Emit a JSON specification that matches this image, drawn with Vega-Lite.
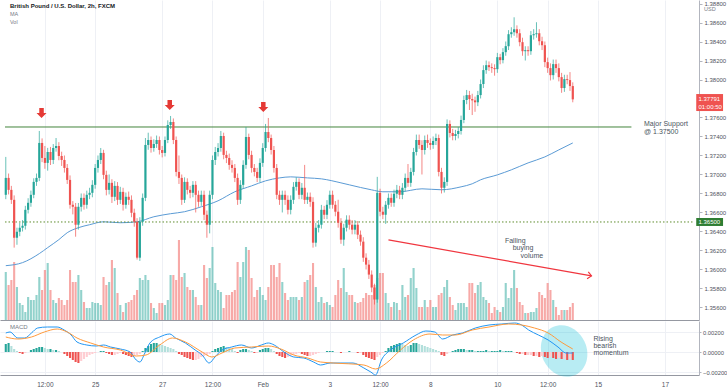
{
"$schema":"https://vega.github.io/schema/vega-lite/v6.json",
"padding":0,
"background":"white",
"spacing":1,
"config":{"view":{"stroke":null},"text":{"font":"Liberation Sans"},"axis":{"labelFont":"Liberation Sans","labelOverlap":false},
 "axisY":{"orient":"right","format":".5f","labelOverlap":false,"grid":true,"gridColor":"#eef0f5","labelFontSize":6,"labelColor":"#50535e","tickSize":3,"tickColor":"#b2b5be","domainColor":"#b2b5be","labelPadding":2,"title":null}},
"datasets":{
"bars":[
{"i":0,"o":1.36786,"h":1.37185,"l":1.3674,"c":1.36964,"v":4800,"g":0.0008},
{"i":1,"o":1.36964,"h":1.3701,"l":1.3679,"c":1.36838,"v":3500,"g":0.0009},
{"i":2,"o":1.36838,"h":1.3688,"l":1.3669,"c":1.36733,"v":4000,"g":0.0006},
{"i":3,"o":1.36733,"h":1.3678,"l":1.3623,"c":1.36334,"v":5800,"g":0.0003},
{"i":4,"o":1.36334,"h":1.3644,"l":1.3626,"c":1.36397,"v":3300,"g":0.0001},
{"i":5,"o":1.36397,"h":1.3649,"l":1.3635,"c":1.36439,"v":1700,"g":-0.0001},
{"i":6,"o":1.36439,"h":1.3652,"l":1.364,"c":1.3646,"v":1500,"g":-0.0002},
{"i":7,"o":1.3646,"h":1.3667,"l":1.3642,"c":1.36628,"v":800,"g":-0.0001},
{"i":8,"o":1.36628,"h":1.3675,"l":1.3659,"c":1.36702,"v":2300,"g":0},
{"i":9,"o":1.36702,"h":1.3683,"l":1.3666,"c":1.36786,"v":2000,"g":0.0002},
{"i":10,"o":1.36786,"h":1.3696,"l":1.3675,"c":1.36922,"v":2000,"g":0.0003},
{"i":11,"o":1.36922,"h":1.3701,"l":1.3688,"c":1.36964,"v":2500,"g":0.0004},
{"i":12,"o":1.36964,"h":1.37458,"l":1.3693,"c":1.37332,"v":4300,"g":0.0005},
{"i":13,"o":1.37332,"h":1.3738,"l":1.3713,"c":1.37174,"v":3000,"g":0.0005},
{"i":14,"o":1.37174,"h":1.373,"l":1.3706,"c":1.37122,"v":5000,"g":0.0004},
{"i":15,"o":1.37122,"h":1.3728,"l":1.3704,"c":1.37237,"v":5700,"g":0.0003},
{"i":16,"o":1.37237,"h":1.3729,"l":1.371,"c":1.37153,"v":3000,"g":0.0003},
{"i":17,"o":1.37153,"h":1.3732,"l":1.3711,"c":1.37279,"v":2000,"g":0.0002},
{"i":18,"o":1.37279,"h":1.37384,"l":1.3724,"c":1.373,"v":1700,"g":0.0002},
{"i":19,"o":1.373,"h":1.3734,"l":1.3715,"c":1.37195,"v":2200,"g":0.0001},
{"i":20,"o":1.37195,"h":1.3724,"l":1.3709,"c":1.37153,"v":2000,"g":0},
{"i":21,"o":1.37153,"h":1.372,"l":1.3702,"c":1.37069,"v":1500,"g":-0.0002},
{"i":22,"o":1.37069,"h":1.3711,"l":1.369,"c":1.36943,"v":2000,"g":-0.0004},
{"i":23,"o":1.36943,"h":1.3699,"l":1.3664,"c":1.36681,"v":5000,"g":-0.0006},
{"i":24,"o":1.36681,"h":1.3672,"l":1.3658,"c":1.3666,"v":3800,"g":-0.0008},
{"i":25,"o":1.3666,"h":1.367,"l":1.36345,"c":1.36471,"v":3800,"g":-0.001},
{"i":26,"o":1.36471,"h":1.367,"l":1.3642,"c":1.3666,"v":4500,"g":-0.0011},
{"i":27,"o":1.3666,"h":1.368,"l":1.3661,"c":1.36754,"v":3000,"g":-0.0009},
{"i":28,"o":1.36754,"h":1.368,"l":1.3663,"c":1.36681,"v":1800,"g":-0.0007},
{"i":29,"o":1.36681,"h":1.3683,"l":1.3664,"c":1.36786,"v":1200,"g":-0.0005},
{"i":30,"o":1.36786,"h":1.3686,"l":1.3674,"c":1.36807,"v":1200,"g":-0.0003},
{"i":31,"o":1.36807,"h":1.3694,"l":1.3676,"c":1.36891,"v":1800,"g":-0.0002},
{"i":32,"o":1.36891,"h":1.3711,"l":1.3685,"c":1.37069,"v":1700,"g":-0.0001},
{"i":33,"o":1.37069,"h":1.372,"l":1.3702,"c":1.37153,"v":1700,"g":0},
{"i":34,"o":1.37153,"h":1.37279,"l":1.3711,"c":1.37227,"v":1500,"g":0.0001},
{"i":35,"o":1.37227,"h":1.3726,"l":1.3695,"c":1.36996,"v":4300,"g":0.0001},
{"i":36,"o":1.36996,"h":1.3704,"l":1.3678,"c":1.36838,"v":3500,"g":-0.0001},
{"i":37,"o":1.36838,"h":1.37,"l":1.3679,"c":1.36912,"v":3800,"g":-0.0002},
{"i":38,"o":1.36912,"h":1.3695,"l":1.367,"c":1.36765,"v":6000,"g":-0.0003},
{"i":39,"o":1.36765,"h":1.3693,"l":1.3672,"c":1.3688,"v":5200,"g":-0.0003},
{"i":40,"o":1.3688,"h":1.3692,"l":1.3668,"c":1.36733,"v":2700,"g":-0.0002},
{"i":41,"o":1.36733,"h":1.3687,"l":1.3669,"c":1.36817,"v":1500,"g":-0.0001},
{"i":42,"o":1.36817,"h":1.3686,"l":1.3662,"c":1.36681,"v":800,"g":-0.0002},
{"i":43,"o":1.36681,"h":1.3681,"l":1.3664,"c":1.36765,"v":1700,"g":-0.0003},
{"i":44,"o":1.36765,"h":1.3682,"l":1.3668,"c":1.36733,"v":1800,"g":-0.0004},
{"i":45,"o":1.36733,"h":1.3678,"l":1.3655,"c":1.36597,"v":2000,"g":-0.0005},
{"i":46,"o":1.36597,"h":1.3664,"l":1.3645,"c":1.36502,"v":2500,"g":-0.0004},
{"i":47,"o":1.36502,"h":1.3654,"l":1.36104,"c":1.36124,"v":3000,"g":-0.0003},
{"i":48,"o":1.36124,"h":1.3655,"l":1.3609,"c":1.36502,"v":4200,"g":-0.0002},
{"i":49,"o":1.36502,"h":1.368,"l":1.3646,"c":1.36754,"v":4000,"g":0.0001},
{"i":50,"o":1.36754,"h":1.37384,"l":1.3672,"c":1.37311,"v":4500,"g":0.0004},
{"i":51,"o":1.37311,"h":1.3744,"l":1.3726,"c":1.37363,"v":4000,"g":0.0006},
{"i":52,"o":1.37363,"h":1.374,"l":1.3723,"c":1.37279,"v":1700,"g":0.0008},
{"i":53,"o":1.37279,"h":1.3737,"l":1.3724,"c":1.37321,"v":1200,"g":0.0009},
{"i":54,"o":1.37321,"h":1.3741,"l":1.3728,"c":1.37363,"v":700,"g":0.0009},
{"i":55,"o":1.37363,"h":1.374,"l":1.3721,"c":1.37258,"v":1700,"g":0.0008},
{"i":56,"o":1.37258,"h":1.373,"l":1.3718,"c":1.37227,"v":1700,"g":0.0007},
{"i":57,"o":1.37227,"h":1.374,"l":1.3719,"c":1.37363,"v":1500,"g":0.0006},
{"i":58,"o":1.37363,"h":1.3757,"l":1.3733,"c":1.37521,"v":2000,"g":0.0005},
{"i":59,"o":1.37521,"h":1.37616,"l":1.3748,"c":1.37553,"v":4500,"g":0.0004},
{"i":60,"o":1.37553,"h":1.3759,"l":1.3732,"c":1.37363,"v":4500,"g":0.0003},
{"i":61,"o":1.37363,"h":1.374,"l":1.3698,"c":1.37027,"v":4000,"g":0.0001},
{"i":62,"o":1.37027,"h":1.372,"l":1.369,"c":1.36964,"v":8000,"g":-0.0002},
{"i":63,"o":1.36964,"h":1.37,"l":1.3668,"c":1.36733,"v":4300,"g":-0.0003},
{"i":64,"o":1.36733,"h":1.3697,"l":1.367,"c":1.36922,"v":4700,"g":-0.0005},
{"i":65,"o":1.36922,"h":1.3696,"l":1.3679,"c":1.36838,"v":3300,"g":-0.0006},
{"i":66,"o":1.36838,"h":1.3688,"l":1.3675,"c":1.36807,"v":3000,"g":-0.0007},
{"i":67,"o":1.36807,"h":1.3693,"l":1.3676,"c":1.36891,"v":3000,"g":-0.0008},
{"i":68,"o":1.36891,"h":1.3693,"l":1.366,"c":1.36786,"v":2300,"g":-0.0008},
{"i":69,"o":1.36786,"h":1.3683,"l":1.3666,"c":1.36712,"v":1500,"g":-0.0007},
{"i":70,"o":1.36712,"h":1.3683,"l":1.3667,"c":1.36786,"v":1500,"g":-0.0005},
{"i":71,"o":1.36786,"h":1.3683,"l":1.3652,"c":1.36576,"v":5500,"g":-0.0004},
{"i":72,"o":1.36576,"h":1.3662,"l":1.36334,"c":1.36471,"v":4200,"g":-0.0003},
{"i":73,"o":1.36471,"h":1.3683,"l":1.3638,"c":1.36786,"v":5200,"g":-0.0002},
{"i":74,"o":1.36786,"h":1.372,"l":1.3674,"c":1.37153,"v":7300,"g":0.0001},
{"i":75,"o":1.37153,"h":1.3729,"l":1.371,"c":1.37237,"v":3700,"g":0.0003},
{"i":76,"o":1.37237,"h":1.3733,"l":1.3719,"c":1.37279,"v":3000,"g":0.0004},
{"i":77,"o":1.37279,"h":1.37458,"l":1.3724,"c":1.37405,"v":2800,"g":0.0005},
{"i":78,"o":1.37405,"h":1.3744,"l":1.3716,"c":1.37206,"v":1200,"g":0.0006},
{"i":79,"o":1.37206,"h":1.3725,"l":1.3712,"c":1.37174,"v":2500,"g":0.0005},
{"i":80,"o":1.37174,"h":1.3722,"l":1.3705,"c":1.37101,"v":2500,"g":0.0004},
{"i":81,"o":1.37101,"h":1.3715,"l":1.3702,"c":1.37069,"v":2800,"g":0.0003},
{"i":82,"o":1.37069,"h":1.3711,"l":1.3692,"c":1.36964,"v":3000,"g":0.0001},
{"i":83,"o":1.36964,"h":1.3701,"l":1.3668,"c":1.36733,"v":5800,"g":-0.0001},
{"i":84,"o":1.36733,"h":1.3694,"l":1.3669,"c":1.36891,"v":4300,"g":0.0002},
{"i":85,"o":1.36891,"h":1.3715,"l":1.3685,"c":1.37101,"v":5800,"g":0.0003},
{"i":86,"o":1.37101,"h":1.375,"l":1.3706,"c":1.37395,"v":7300,"g":0.0003},
{"i":87,"o":1.37395,"h":1.3743,"l":1.3716,"c":1.37206,"v":7000,"g":0.0002},
{"i":88,"o":1.37206,"h":1.3725,"l":1.3702,"c":1.37069,"v":4200,"g":0.0001},
{"i":89,"o":1.37069,"h":1.3711,"l":1.3698,"c":1.37027,"v":2300,"g":-0.0001},
{"i":90,"o":1.37027,"h":1.3707,"l":1.3692,"c":1.36964,"v":3000,"g":-0.0001},
{"i":91,"o":1.36964,"h":1.3717,"l":1.3692,"c":1.37122,"v":3300,"g":0.0002},
{"i":92,"o":1.37122,"h":1.3733,"l":1.3708,"c":1.37279,"v":2500,"g":0.0003},
{"i":93,"o":1.37279,"h":1.37532,"l":1.3724,"c":1.37447,"v":2000,"g":0.0004},
{"i":94,"o":1.37447,"h":1.37595,"l":1.3734,"c":1.37384,"v":3300,"g":0.0004},
{"i":95,"o":1.37384,"h":1.3742,"l":1.3721,"c":1.37258,"v":5500,"g":0.0003},
{"i":96,"o":1.37258,"h":1.373,"l":1.3702,"c":1.37069,"v":5500,"g":0.0001},
{"i":97,"o":1.37069,"h":1.3711,"l":1.3674,"c":1.36786,"v":4300,"g":-0.0002},
{"i":98,"o":1.36786,"h":1.3683,"l":1.3668,"c":1.36733,"v":5700,"g":-0.0004},
{"i":99,"o":1.36733,"h":1.3683,"l":1.366,"c":1.36786,"v":3800,"g":-0.0005},
{"i":100,"o":1.36786,"h":1.3683,"l":1.3668,"c":1.36733,"v":2700,"g":-0.0006},
{"i":101,"o":1.36733,"h":1.3678,"l":1.3658,"c":1.36628,"v":2000,"g":-0.0005},
{"i":102,"o":1.36628,"h":1.3678,"l":1.3658,"c":1.36733,"v":2300,"g":-0.0004},
{"i":103,"o":1.36733,"h":1.3692,"l":1.3669,"c":1.3687,"v":2300,"g":-0.0003},
{"i":104,"o":1.3687,"h":1.3697,"l":1.3683,"c":1.36922,"v":2300,"g":-0.0002},
{"i":105,"o":1.36922,"h":1.3696,"l":1.3674,"c":1.36786,"v":2000,"g":-0.0001},
{"i":106,"o":1.36786,"h":1.3691,"l":1.3674,"c":1.3686,"v":2300,"g":-0.0002},
{"i":107,"o":1.3686,"h":1.37101,"l":1.3669,"c":1.36733,"v":3800,"g":-0.0003},
{"i":108,"o":1.36733,"h":1.3681,"l":1.3669,"c":1.36765,"v":4000,"g":-0.0004},
{"i":109,"o":1.36765,"h":1.3681,"l":1.3666,"c":1.36712,"v":4500,"g":-0.0004},
{"i":110,"o":1.36712,"h":1.3676,"l":1.3623,"c":1.36282,"v":5700,"g":-0.0003},
{"i":111,"o":1.36282,"h":1.3649,"l":1.3624,"c":1.36439,"v":3300,"g":-0.0002},
{"i":112,"o":1.36439,"h":1.3652,"l":1.3639,"c":1.36471,"v":1800,"g":-0.0001},
{"i":113,"o":1.36471,"h":1.3668,"l":1.3643,"c":1.36628,"v":2300,"g":0},
{"i":114,"o":1.36628,"h":1.3667,"l":1.3653,"c":1.36576,"v":1700,"g":0},
{"i":115,"o":1.36576,"h":1.3673,"l":1.3653,"c":1.36681,"v":1800,"g":0.0001},
{"i":116,"o":1.36681,"h":1.3683,"l":1.3664,"c":1.36786,"v":1500,"g":0.0001},
{"i":117,"o":1.36786,"h":1.3683,"l":1.3664,"c":1.36681,"v":1300,"g":0.0001},
{"i":118,"o":1.36681,"h":1.3672,"l":1.3656,"c":1.36608,"v":2500,"g":0},
{"i":119,"o":1.36608,"h":1.36734,"l":1.3644,"c":1.36492,"v":4000,"g":0},
{"i":120,"o":1.36492,"h":1.3654,"l":1.3627,"c":1.36314,"v":3200,"g":-0.0001},
{"i":121,"o":1.36314,"h":1.3648,"l":1.3625,"c":1.36439,"v":5200,"g":0},
{"i":122,"o":1.36439,"h":1.3657,"l":1.364,"c":1.36524,"v":2800,"g":0},
{"i":123,"o":1.36524,"h":1.3657,"l":1.3642,"c":1.36471,"v":2500,"g":0.0001},
{"i":124,"o":1.36471,"h":1.3652,"l":1.3637,"c":1.36419,"v":2500,"g":0},
{"i":125,"o":1.36419,"h":1.3652,"l":1.3637,"c":1.36471,"v":1800,"g":0},
{"i":126,"o":1.36471,"h":1.3651,"l":1.3632,"c":1.36366,"v":1700,"g":-0.0001},
{"i":127,"o":1.36366,"h":1.3641,"l":1.3625,"c":1.36293,"v":1800,"g":-0.0001},
{"i":128,"o":1.36293,"h":1.3634,"l":1.3608,"c":1.36124,"v":2200,"g":-0.0003},
{"i":129,"o":1.36124,"h":1.3617,"l":1.36,"c":1.36051,"v":2700,"g":-0.0005},
{"i":130,"o":1.36051,"h":1.361,"l":1.359,"c":1.35946,"v":2500,"g":-0.0006},
{"i":131,"o":1.35946,"h":1.3599,"l":1.3576,"c":1.3581,"v":2500,"g":-0.0007},
{"i":132,"o":1.3581,"h":1.3585,"l":1.35631,"c":1.35684,"v":3500,"g":-0.0008},
{"i":133,"o":1.35684,"h":1.36975,"l":1.3565,"c":1.36807,"v":4200,"g":-0.0005},
{"i":134,"o":1.36807,"h":1.3685,"l":1.3656,"c":1.36608,"v":4700,"g":-0.0003},
{"i":135,"o":1.36608,"h":1.3666,"l":1.3653,"c":1.36576,"v":4700,"g":-0.0001},
{"i":136,"o":1.36576,"h":1.3672,"l":1.3648,"c":1.36681,"v":2700,"g":0.0001},
{"i":137,"o":1.36681,"h":1.368,"l":1.3664,"c":1.36754,"v":1700,"g":0.0004},
{"i":138,"o":1.36754,"h":1.368,"l":1.3666,"c":1.36702,"v":1300,"g":0.0006},
{"i":139,"o":1.36702,"h":1.3684,"l":1.3666,"c":1.36797,"v":1800,"g":0.0007},
{"i":140,"o":1.36797,"h":1.3689,"l":1.3675,"c":1.36838,"v":1700,"g":0.0008},
{"i":141,"o":1.36838,"h":1.3688,"l":1.3674,"c":1.36786,"v":1000,"g":0.0009},
{"i":142,"o":1.36786,"h":1.3691,"l":1.3674,"c":1.3686,"v":3500,"g":0.0008},
{"i":143,"o":1.3686,"h":1.3701,"l":1.3682,"c":1.36964,"v":2300,"g":0.0007},
{"i":144,"o":1.36964,"h":1.3711,"l":1.3687,"c":1.36912,"v":2500,"g":0.0006},
{"i":145,"o":1.36912,"h":1.3707,"l":1.3687,"c":1.37027,"v":4200,"g":0.0007},
{"i":146,"o":1.37027,"h":1.3728,"l":1.3699,"c":1.37237,"v":5200,"g":0.0009},
{"i":147,"o":1.37237,"h":1.3742,"l":1.372,"c":1.37363,"v":3200,"g":0.0009},
{"i":148,"o":1.37363,"h":1.3742,"l":1.3727,"c":1.37311,"v":1300,"g":0.0008},
{"i":149,"o":1.37311,"h":1.3736,"l":1.37,"c":1.37258,"v":1300,"g":0.0007},
{"i":150,"o":1.37258,"h":1.3741,"l":1.3721,"c":1.37363,"v":2000,"g":0.0006},
{"i":151,"o":1.37363,"h":1.3742,"l":1.3728,"c":1.37332,"v":1300,"g":0.0005},
{"i":152,"o":1.37332,"h":1.3738,"l":1.3726,"c":1.37311,"v":2000,"g":0.0004},
{"i":153,"o":1.37311,"h":1.374,"l":1.3727,"c":1.37353,"v":1300,"g":0.0003},
{"i":154,"o":1.37353,"h":1.3743,"l":1.3731,"c":1.37384,"v":1300,"g":0.0002},
{"i":155,"o":1.37384,"h":1.3742,"l":1.3698,"c":1.37027,"v":2500,"g":0.0001},
{"i":156,"o":1.37027,"h":1.3707,"l":1.368,"c":1.3686,"v":2700,"g":-0.0003},
{"i":157,"o":1.3686,"h":1.3697,"l":1.3681,"c":1.36922,"v":3300,"g":-0.0004},
{"i":158,"o":1.36922,"h":1.3758,"l":1.3688,"c":1.37532,"v":4000,"g":-0.0002},
{"i":159,"o":1.37532,"h":1.3757,"l":1.3739,"c":1.37437,"v":2300,"g":0},
{"i":160,"o":1.37437,"h":1.3748,"l":1.3736,"c":1.37405,"v":1500,"g":0.0001},
{"i":161,"o":1.37405,"h":1.3747,"l":1.3736,"c":1.37426,"v":1000,"g":0.0002},
{"i":162,"o":1.37426,"h":1.375,"l":1.3738,"c":1.37458,"v":1700,"g":0.0003},
{"i":163,"o":1.37458,"h":1.3762,"l":1.3742,"c":1.37574,"v":1700,"g":0.0003},
{"i":164,"o":1.37574,"h":1.3783,"l":1.3754,"c":1.37784,"v":1700,"g":0.0003},
{"i":165,"o":1.37784,"h":1.3789,"l":1.3774,"c":1.37836,"v":1300,"g":0.0002},
{"i":166,"o":1.37836,"h":1.3788,"l":1.37679,"c":1.37794,"v":3700,"g":0.0002},
{"i":167,"o":1.37794,"h":1.3785,"l":1.37626,"c":1.3778,"v":3700,"g":0.0002},
{"i":168,"o":1.3778,"h":1.3782,"l":1.3766,"c":1.3776,"v":2700,"g":0.0001},
{"i":169,"o":1.3776,"h":1.3788,"l":1.3772,"c":1.37836,"v":3500,"g":0.0001},
{"i":170,"o":1.37836,"h":1.38,"l":1.378,"c":1.37952,"v":3800,"g":0.0001},
{"i":171,"o":1.37952,"h":1.3815,"l":1.3791,"c":1.38099,"v":2300,"g":0.0001},
{"i":172,"o":1.38099,"h":1.382,"l":1.3806,"c":1.38151,"v":2000,"g":0.0002},
{"i":173,"o":1.38151,"h":1.3819,"l":1.3809,"c":1.3813,"v":1700,"g":0.0001},
{"i":174,"o":1.3813,"h":1.3817,"l":1.3807,"c":1.3812,"v":700,"g":0.0001},
{"i":175,"o":1.3812,"h":1.3816,"l":1.3804,"c":1.38109,"v":1300,"g":0.0001},
{"i":176,"o":1.38109,"h":1.3828,"l":1.3807,"c":1.38235,"v":1000,"g":0.0001},
{"i":177,"o":1.38235,"h":1.3827,"l":1.3816,"c":1.38204,"v":800,"g":0.0002},
{"i":178,"o":1.38204,"h":1.3833,"l":1.3817,"c":1.38288,"v":1300,"g":0.0001},
{"i":179,"o":1.38288,"h":1.384,"l":1.3825,"c":1.38351,"v":3700,"g":0.0001},
{"i":180,"o":1.38351,"h":1.3852,"l":1.3831,"c":1.38477,"v":2200,"g":0.0001},
{"i":181,"o":1.38477,"h":1.3855,"l":1.3844,"c":1.38498,"v":3200,"g":0.0001},
{"i":182,"o":1.38498,"h":1.38655,"l":1.3846,"c":1.38529,"v":5000,"g":0},
{"i":183,"o":1.38529,"h":1.3857,"l":1.3844,"c":1.38487,"v":3200,"g":-0.0001},
{"i":184,"o":1.38487,"h":1.3853,"l":1.3835,"c":1.38393,"v":1800,"g":-0.0002},
{"i":185,"o":1.38393,"h":1.3844,"l":1.3825,"c":1.38298,"v":1500,"g":-0.0002},
{"i":186,"o":1.38298,"h":1.3835,"l":1.382,"c":1.38309,"v":700,"g":-0.0003},
{"i":187,"o":1.38309,"h":1.3835,"l":1.3825,"c":1.38298,"v":700,"g":-0.0003},
{"i":188,"o":1.38298,"h":1.3851,"l":1.3826,"c":1.38466,"v":800,"g":-0.0003},
{"i":189,"o":1.38466,"h":1.3853,"l":1.3842,"c":1.38477,"v":800,"g":-0.0004},
{"i":190,"o":1.38477,"h":1.38603,"l":1.3844,"c":1.38487,"v":1200,"g":-0.0004},
{"i":191,"o":1.38487,"h":1.3853,"l":1.3836,"c":1.38403,"v":2800,"g":-0.0005},
{"i":192,"o":1.38403,"h":1.3845,"l":1.3831,"c":1.38361,"v":2500,"g":-0.0004},
{"i":193,"o":1.38361,"h":1.384,"l":1.3813,"c":1.38183,"v":2200,"g":-0.0005},
{"i":194,"o":1.38183,"h":1.3823,"l":1.3807,"c":1.3812,"v":3700,"g":-0.0006},
{"i":195,"o":1.3812,"h":1.3817,"l":1.3799,"c":1.38046,"v":3000,"g":-0.0005},
{"i":196,"o":1.38046,"h":1.3821,"l":1.38,"c":1.38162,"v":2000,"g":-0.0006},
{"i":197,"o":1.38162,"h":1.3821,"l":1.3807,"c":1.3812,"v":1300,"g":-0.0007},
{"i":198,"o":1.3812,"h":1.3817,"l":1.3798,"c":1.38025,"v":500,"g":-0.0006},
{"i":199,"o":1.38025,"h":1.3807,"l":1.3786,"c":1.3791,"v":1000,"g":-0.0007},
{"i":200,"o":1.3791,"h":1.3805,"l":1.3787,"c":1.38004,"v":1000,"g":-0.0007},
{"i":201,"o":1.38004,"h":1.3805,"l":1.3795,"c":1.37994,"v":1000,"g":-0.0008},
{"i":202,"o":1.37994,"h":1.38078,"l":1.3788,"c":1.37931,"v":1300,"g":-0.0007},
{"i":203,"o":1.37931,"h":1.3797,"l":1.3776,"c":1.37791,"v":1700,"g":-0.0008}
],
"ma":[{"i":0,"p":1.3604},{"i":6,"p":1.36072},{"i":12,"p":1.36167},{"i":15,"p":1.3623},{"i":19,"p":1.36314},{"i":22,"p":1.36387},{"i":26,"p":1.3644},{"i":30,"p":1.36471},{"i":35,"p":1.36502},{"i":41,"p":1.36492},{"i":47,"p":1.36502},{"i":53,"p":1.36555},{"i":59,"p":1.36587},{"i":64,"p":1.36608},{"i":70,"p":1.3666},{"i":76,"p":1.36723},{"i":82,"p":1.36818},{"i":88,"p":1.3688},{"i":93,"p":1.36933},{"i":98,"p":1.36964},{"i":102,"p":1.36975},{"i":108,"p":1.36964},{"i":113,"p":1.36954},{"i":120,"p":1.36912},{"i":123,"p":1.36891},{"i":131,"p":1.36838},{"i":135,"p":1.36818},{"i":141,"p":1.36818},{"i":149,"p":1.36849},{"i":156,"p":1.36839},{"i":163,"p":1.3687},{"i":167,"p":1.36902},{"i":170,"p":1.36944},{"i":176,"p":1.36996},{"i":181,"p":1.37049},{"i":187,"p":1.37122},{"i":193,"p":1.37185},{"i":198,"p":1.37259},{"i":203,"p":1.37332}],
"macd":[{"i":0,"v":0.0019},{"i":1.5,"v":0.002},{"i":4.3,"v":0.0014},{"i":6.8,"v":0.0014},{"i":9.2,"v":0.0019},{"i":11.4,"v":0.0024},{"i":14.9,"v":0.0025},{"i":18.4,"v":0.0025},{"i":20.9,"v":0.0022},{"i":23.4,"v":0.0017},{"i":25.5,"v":0.001},{"i":29,"v":0.0007},{"i":32.5,"v":0.0006},{"i":35,"v":0.0007},{"i":37.5,"v":0.0005},{"i":41,"v":0.0003},{"i":44.5,"v":0},{"i":46.7,"v":-0.0008},{"i":48,"v":-0.001},{"i":49.8,"v":-0.0001},{"i":51.6,"v":0.0009},{"i":55.1,"v":0.0015},{"i":58.7,"v":0.0018},{"i":60.8,"v":0.0014},{"i":64.3,"v":0.0009},{"i":67.8,"v":0.0002},{"i":70.3,"v":-0.0003},{"i":72.8,"v":-0.0011},{"i":74.9,"v":-0.0005},{"i":77.4,"v":0.0002},{"i":80.9,"v":0.0005},{"i":84.4,"v":0.0007},{"i":88,"v":0.0004},{"i":91.5,"v":0.0007},{"i":94,"v":0.0009},{"i":96.1,"v":0.0007},{"i":99.6,"v":0},{"i":103.1,"v":-0.0005},{"i":106.7,"v":-0.0006},{"i":110.2,"v":-0.001},{"i":112.7,"v":-0.0013},{"i":116.2,"v":-0.0011},{"i":119.7,"v":-0.0011},{"i":124.3,"v":-0.0011},{"i":128.2,"v":-0.0016},{"i":130.7,"v":-0.002},{"i":132.4,"v":-0.0023},{"i":134.5,"v":-0.0008},{"i":137.7,"v":0.0002},{"i":142.3,"v":0.0009},{"i":146.9,"v":0.0017},{"i":150.4,"v":0.0021},{"i":153.6,"v":0.002},{"i":156.4,"v":0.0013},{"i":160,"v":0.0017},{"i":163.5,"v":0.0019},{"i":168.1,"v":0.0024},{"i":173,"v":0.0027},{"i":177.6,"v":0.0028},{"i":182.2,"v":0.0029},{"i":184.7,"v":0.0027},{"i":187.2,"v":0.0022},{"i":190.7,"v":0.0017},{"i":194.2,"v":0.0012},{"i":197.7,"v":0.0005},{"i":200.6,"v":-0.0001},{"i":203,"v":-0.0001}],
"sig":[{"i":0,"v":0.0015},{"i":4.3,"v":0.0013},{"i":9.2,"v":0.0015},{"i":13.8,"v":0.002},{"i":18.4,"v":0.0023},{"i":22,"v":0.002},{"i":25.5,"v":0.0014},{"i":30.4,"v":0.0009},{"i":35,"v":0.0005},{"i":41,"v":0.0002},{"i":46.7,"v":-0.0004},{"i":50.2,"v":-0.0003},{"i":55.1,"v":0.0007},{"i":59.7,"v":0.0014},{"i":64.3,"v":0.001},{"i":70.3,"v":0},{"i":73.8,"v":-0.0005},{"i":77.4,"v":-0.0001},{"i":82,"v":0.0004},{"i":88,"v":0.0005},{"i":94,"v":0.0006},{"i":98.5,"v":0.0003},{"i":103.1,"v":-0.0003},{"i":108.1,"v":-0.0006},{"i":112.7,"v":-0.001},{"i":117.3,"v":-0.0011},{"i":128.2,"v":-0.0013},{"i":132.4,"v":-0.0017},{"i":136.3,"v":-0.0011},{"i":141.3,"v":0.0002},{"i":145.9,"v":0.0012},{"i":151.9,"v":0.0018},{"i":156.4,"v":0.0017},{"i":161,"v":0.0017},{"i":167,"v":0.0022},{"i":173,"v":0.0025},{"i":180.1,"v":0.0028},{"i":184.7,"v":0.0027},{"i":189.3,"v":0.0024},{"i":194.2,"v":0.0019},{"i":198.8,"v":0.001},{"i":203,"v":0.0003}],
"sup":[{"i":-0.28,"i2":224,"p":1.375}],
"dot":[{"i":-0.28,"i2":246.4,"p":1.365}],
"arr":[{"i":12.8,"p":1.37647},{"i":58.7,"p":1.37732},{"i":92.2,"p":1.37711}],
"trend":[{"i":137,"i2":209.7,"p":1.36311,"p2":1.35932}],
"head":[{"i":209.7,"p":1.35932}],
"tagr":[{"i":247.2,"i2":256.8,"p":1.37847,"p2":1.37668}],
"tagg":[{"i":247.2,"i2":256.8,"p":1.36542,"p2":1.36458}],
"tagt":[{"i":248,"p":1.37795,"t":"1.37791"},{"i":248,"p":1.3771,"t":"01:00:50"},{"i":248,"p":1.365,"t":"1.36500"}],
"ttl":[{"i":1.5,"p":1.38774,"t":"British Pound / U.S. Dollar, 2h, FXCM"}],
"lbl":[{"i":1.5,"p":1.38689,"t":"MA"},{"i":1.5,"p":1.38605,"t":"Vol"},{"i":250,"p":1.38745,"t":"USD"}],
"ann":[{"i":228.5,"p":1.37532,"t":"Major Support"},{"i":228.5,"p":1.37447,"t":"@ 1.37500"},{"i":178.7,"p":1.363,"t":"Falling"},{"i":181.5,"p":1.36226,"t":"buying"},{"i":184.3,"p":1.36142,"t":"volume"}],
"ell":[{"i":199.9,"v":0.0001}],
"mtx":[{"i":1.5,"v":0.0025,"t":"MACD"}],
"mann":[{"i":210.4,"v":0.0013,"t":"Rising"},{"i":210.4,"v":0.0006,"t":"bearish"},{"i":210.4,"v":-0.0001,"t":"momentum"}]
},
"vconcat":[
{
"width":699,"height":320,
"encoding":{"x":{"field":"i","type":"quantitative","scale":{"domain":[-0.28,246.4],"nice":false,"zero":false},"axis":{"values":[14,32,56,74,92,116,134,152,176,194,212,236],"labels":false,"ticks":false,"grid":true,"gridColor":"#eef0f5","domain":true,"domainColor":"#9598a1","title":null}}},
"layer":[
{"data":{"name":"bars"},"mark":{"type":"bar","orient":"vertical","size":2.1,"opacity":0.5},
 "encoding":{"y":{"field":"v","type":"quantitative","scale":{"domain":[0,32000]},"axis":null},
 "color":{"condition":{"test":"datum.c>=datum.o","value":"#26a69a"},"value":"#ef5350"}}},
{"layer":[
 {"data":{"name":"ma"},"mark":{"type":"line","color":"#5b9bd5","strokeWidth":1,"interpolate":"monotone"},
  "encoding":{"y":{"field":"p","type":"quantitative","title":null,"scale":{"domain":[1.35468,1.38837],"nice":false,"zero":false},"axis":{"values":[1.356,1.358,1.36,1.362,1.364,1.366,1.368,1.37,1.372,1.374,1.376,1.38,1.382,1.384,1.386,1.388],"labelOverlap":false}}}},
 {"data":{"name":"dot"},"mark":{"type":"rule","color":"#5f8d2e","strokeWidth":1,"strokeDash":[1.5,2]},
  "encoding":{"x2":{"field":"i2"},"y":{"field":"p","type":"quantitative","title":null,"scale":{"domain":[1.35468,1.38837],"nice":false,"zero":false},"axis":{"values":[1.356,1.358,1.36,1.362,1.364,1.366,1.368,1.37,1.372,1.374,1.376,1.38,1.382,1.384,1.386,1.388],"labelOverlap":false}}}},
 {"data":{"name":"sup"},"mark":{"type":"rule","color":"#43853c","strokeWidth":1},
  "encoding":{"x2":{"field":"i2"},"y":{"field":"p","type":"quantitative","title":null,"scale":{"domain":[1.35468,1.38837],"nice":false,"zero":false},"axis":{"values":[1.356,1.358,1.36,1.362,1.364,1.366,1.368,1.37,1.372,1.374,1.376,1.38,1.382,1.384,1.386,1.388],"labelOverlap":false}}}},
 {"data":{"name":"bars"},"mark":{"type":"rule","strokeWidth":0.7},
  "encoding":{"y":{"field":"l","type":"quantitative","title":null,"scale":{"domain":[1.35468,1.38837],"nice":false,"zero":false},"axis":{"values":[1.356,1.358,1.36,1.362,1.364,1.366,1.368,1.37,1.372,1.374,1.376,1.38,1.382,1.384,1.386,1.388],"labelOverlap":false}},"y2":{"field":"h"},
  "color":{"condition":{"test":"datum.c>=datum.o","value":"#26a69a"},"value":"#ef5350"}}},
 {"data":{"name":"bars"},"mark":{"type":"rule","strokeWidth":2.2},
  "encoding":{"y":{"field":"o","type":"quantitative","title":null,"scale":{"domain":[1.35468,1.38837],"nice":false,"zero":false},"axis":{"values":[1.356,1.358,1.36,1.362,1.364,1.366,1.368,1.37,1.372,1.374,1.376,1.38,1.382,1.384,1.386,1.388],"labelOverlap":false}},"y2":{"field":"c"},
  "color":{"condition":{"test":"datum.c>=datum.o","value":"#26a69a"},"value":"#ef5350"}}},
 {"data":{"name":"arr"},"mark":{"type":"point","shape":"M-0.45,-1L0.45,-1L0.45,0L1,0L0,1L-1,0L-0.45,0Z","filled":true,"color":"#e53935","size":100,"opacity":1},
  "encoding":{"y":{"field":"p","type":"quantitative","title":null,"scale":{"domain":[1.35468,1.38837],"nice":false,"zero":false},"axis":{"values":[1.356,1.358,1.36,1.362,1.364,1.366,1.368,1.37,1.372,1.374,1.376,1.38,1.382,1.384,1.386,1.388],"labelOverlap":false}}}},
 {"data":{"name":"trend"},"mark":{"type":"rule","color":"#f0363f","strokeWidth":1.2},
  "encoding":{"x2":{"field":"i2"},"y":{"field":"p","type":"quantitative","title":null,"scale":{"domain":[1.35468,1.38837],"nice":false,"zero":false},"axis":{"values":[1.356,1.358,1.36,1.362,1.364,1.366,1.368,1.37,1.372,1.374,1.376,1.38,1.382,1.384,1.386,1.388],"labelOverlap":false}},"y2":{"field":"p2"}}},
 {"data":{"name":"head"},"mark":{"type":"point","shape":"M-1,-0.9L0,0L-1,0.9","filled":false,"color":"#f0363f","strokeWidth":1.2,"size":60,"angle":10,"opacity":1},
  "encoding":{"y":{"field":"p","type":"quantitative","title":null,"scale":{"domain":[1.35468,1.38837],"nice":false,"zero":false},"axis":{"values":[1.356,1.358,1.36,1.362,1.364,1.366,1.368,1.37,1.372,1.374,1.376,1.38,1.382,1.384,1.386,1.388],"labelOverlap":false}}}},
 {"data":{"name":"ttl"},"mark":{"type":"text","align":"left","baseline":"middle","fontSize":6,"fontWeight":"bold","color":"#131722"},
  "encoding":{"y":{"field":"p","type":"quantitative","title":null,"scale":{"domain":[1.35468,1.38837],"nice":false,"zero":false},"axis":{"values":[1.356,1.358,1.36,1.362,1.364,1.366,1.368,1.37,1.372,1.374,1.376,1.38,1.382,1.384,1.386,1.388],"labelOverlap":false}},"text":{"field":"t"}}},
 {"data":{"name":"lbl"},"mark":{"type":"text","align":"left","baseline":"middle","fontSize":5.5,"color":"#787b86"},
  "encoding":{"y":{"field":"p","type":"quantitative","title":null,"scale":{"domain":[1.35468,1.38837],"nice":false,"zero":false},"axis":{"values":[1.356,1.358,1.36,1.362,1.364,1.366,1.368,1.37,1.372,1.374,1.376,1.38,1.382,1.384,1.386,1.388],"labelOverlap":false}},"text":{"field":"t"}}},
 {"data":{"name":"ann"},"mark":{"type":"text","align":"left","baseline":"middle","fontSize":7,"color":"#4a5460"},
  "encoding":{"y":{"field":"p","type":"quantitative","title":null,"scale":{"domain":[1.35468,1.38837],"nice":false,"zero":false},"axis":{"values":[1.356,1.358,1.36,1.362,1.364,1.366,1.368,1.37,1.372,1.374,1.376,1.38,1.382,1.384,1.386,1.388],"labelOverlap":false}},"text":{"field":"t"}}},
 {"data":{"name":"tagr"},"mark":{"type":"rect","color":"#ef5350"},
  "encoding":{"x2":{"field":"i2"},"y":{"field":"p","type":"quantitative","title":null,"scale":{"domain":[1.35468,1.38837],"nice":false,"zero":false},"axis":{"values":[1.356,1.358,1.36,1.362,1.364,1.366,1.368,1.37,1.372,1.374,1.376,1.38,1.382,1.384,1.386,1.388],"labelOverlap":false}},"y2":{"field":"p2"}}},
 {"data":{"name":"tagg"},"mark":{"type":"rect","color":"#2e7d32"},
  "encoding":{"x2":{"field":"i2"},"y":{"field":"p","type":"quantitative","title":null,"scale":{"domain":[1.35468,1.38837],"nice":false,"zero":false},"axis":{"values":[1.356,1.358,1.36,1.362,1.364,1.366,1.368,1.37,1.372,1.374,1.376,1.38,1.382,1.384,1.386,1.388],"labelOverlap":false}},"y2":{"field":"p2"}}},
 {"data":{"name":"tagt"},"mark":{"type":"text","align":"left","baseline":"middle","fontSize":6,"color":"white"},
  "encoding":{"y":{"field":"p","type":"quantitative","title":null,"scale":{"domain":[1.35468,1.38837],"nice":false,"zero":false},"axis":{"values":[1.356,1.358,1.36,1.362,1.364,1.366,1.368,1.37,1.372,1.374,1.376,1.38,1.382,1.384,1.386,1.388],"labelOverlap":false}},"text":{"field":"t"}}}
]}
],
"resolve":{"scale":{"y":"independent"}}
},
{
"width":699,"height":54,
"encoding":{"x":{"field":"i","type":"quantitative","scale":{"domain":[-0.28,246.4],"nice":false,"zero":false},"axis":{"values":[14,32,56,74,92,116,134,152,176,194,212,236],"labelExpr":"datum.value==14?'12:00':datum.value==32?'25':datum.value==56?'27':datum.value==74?'12:00':datum.value==92?'Feb':datum.value==116?'3':datum.value==134?'12:00':datum.value==152?'8':datum.value==176?'10':datum.value==194?'12:00':datum.value==212?'15':'17'","labelOverlap":false,"grid":true,"gridColor":"#eef0f5","ticks":false,"domainColor":"#9598a1","labelFontSize":6.5,"labelColor":"#50535e","labelPadding":6,"title":null}}},
"layer":[
 {"data":{"name":"ell"},"mark":{"type":"point","shape":"M-0.85,0A0.85,1 0 1,0 0.85,0A0.85,1 0 1,0 -0.85,0Z","filled":true,"color":"#00bcd4","opacity":0.28,"size":2800,"angle":-25},
  "encoding":{"y":{"field":"v","type":"quantitative","title":null,"scale":{"domain":[-0.0023,0.0031],"nice":false,"zero":false},"axis":{"values":[-0.002,0,0.002],"labelFontSize":5.8,"tickSize":2,"labelPadding":1.5}}}},
 {"data":{"name":"bars"},"transform":[{"window":[{"op":"lag","field":"g","as":"hp"}],"sort":[{"field":"i"}]}],
  "mark":{"type":"bar","orient":"vertical","size":2.1},
  "encoding":{"y":{"field":"g","type":"quantitative","title":null,"scale":{"domain":[-0.0023,0.0031],"nice":false,"zero":false},"axis":{"values":[-0.002,0,0.002],"labelFontSize":5.8,"tickSize":2,"labelPadding":1.5}},
  "color":{"condition":[{"test":"datum.g>=0 && datum.g>=datum.hp","value":"#26a69a"},{"test":"datum.g>=0","value":"#b2dfdb"},{"test":"datum.g<datum.hp","value":"#ef5350"}],"value":"#ffcdd2"}}},
 {"data":{"name":"macd"},"mark":{"type":"line","color":"#2196f3","strokeWidth":1,"interpolate":"monotone"},
  "encoding":{"y":{"field":"v","type":"quantitative","title":null,"scale":{"domain":[-0.0023,0.0031],"nice":false,"zero":false},"axis":{"values":[-0.002,0,0.002],"labelFontSize":5.8,"tickSize":2,"labelPadding":1.5}}}},
 {"data":{"name":"sig"},"mark":{"type":"line","color":"#ff9a3c","strokeWidth":1,"interpolate":"monotone"},
  "encoding":{"y":{"field":"v","type":"quantitative","title":null,"scale":{"domain":[-0.0023,0.0031],"nice":false,"zero":false},"axis":{"values":[-0.002,0,0.002],"labelFontSize":5.8,"tickSize":2,"labelPadding":1.5}}}},
 {"data":{"name":"mtx"},"mark":{"type":"text","align":"left","baseline":"middle","fontSize":6,"color":"#787b86"},
  "encoding":{"y":{"field":"v","type":"quantitative","title":null,"scale":{"domain":[-0.0023,0.0031],"nice":false,"zero":false},"axis":{"values":[-0.002,0,0.002],"labelFontSize":5.8,"tickSize":2,"labelPadding":1.5}},"text":{"field":"t"}}},
 {"data":{"name":"mann"},"mark":{"type":"text","align":"left","baseline":"middle","fontSize":7,"color":"#4a5460"},
  "encoding":{"y":{"field":"v","type":"quantitative","title":null,"scale":{"domain":[-0.0023,0.0031],"nice":false,"zero":false},"axis":{"values":[-0.002,0,0.002],"labelFontSize":5.8,"tickSize":2,"labelPadding":1.5}},"text":{"field":"t"}}}
]
}
]
}
